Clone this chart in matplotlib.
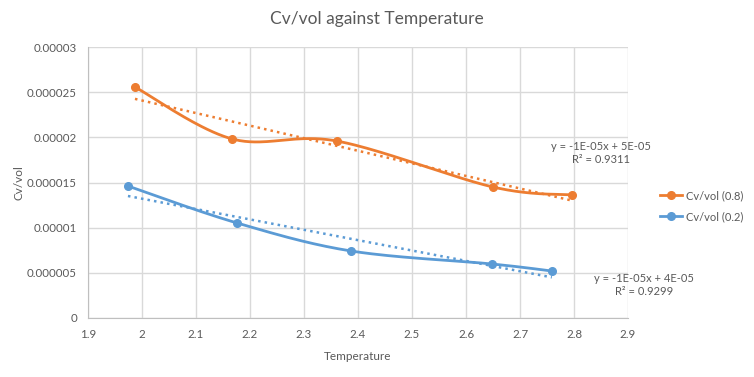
import numpy as np
import matplotlib
matplotlib.use("Agg")
import matplotlib.pyplot as plt

title = "Cv/vol against Temperature"
x_label = "Temperature"
y_label = "Cv/vol"

temp_08 = [1.987, 2.167, 2.361, 2.650, 2.796]
cv_08 = [2.557e-5, 1.982e-5, 1.959e-5, 1.450e-5, 1.362e-5]
temp_02 = [1.974, 2.176, 2.387, 2.648, 2.759]
cv_02 = [1.461e-5, 1.052e-5, 0.742e-5, 0.598e-5, 0.520e-5]

eq_08 = "y = -1E-05x + 5E-05\nR² = 0.9311"
eq_02 = "y = -1E-05x + 4E-05\nR² = 0.9299"

xticks = [1.9, 2.0, 2.1, 2.2, 2.3, 2.4, 2.5, 2.6, 2.7, 2.8, 2.9]
xtick_labels = ["1.9", "2", "2.1", "2.2", "2.3", "2.4", "2.5", "2.6", "2.7", "2.8", "2.9"]
yticks = [0, 0.000005, 0.00001, 0.000015, 0.00002, 0.000025, 0.00003]
ytick_labels = ["0", "0.000005", "0.00001", "0.000015", "0.00002", "0.000025", "0.00003"]

ORANGE = "#ED7D31"
BLUE = "#5B9BD5"
TXT = "#595959"

plt.rcParams['font.family'] = ['Lato', 'DejaVu Sans']


def smooth(xs, ys, n=40):
    xs = np.asarray(xs, float)
    ys = np.asarray(ys, float)
    px = np.concatenate([[xs[0]], xs, [xs[-1]]])
    py = np.concatenate([[ys[0]], ys, [ys[-1]]])
    ox, oy = [], []
    t = np.linspace(0, 1, n)
    for i in range(1, len(px) - 2):
        p0 = np.array([px[i], py[i]])
        p3 = np.array([px[i + 1], py[i + 1]])
        p1 = p0 + (np.array([px[i + 1], py[i + 1]]) - np.array([px[i - 1], py[i - 1]])) / 6
        p2 = p3 - (np.array([px[i + 2], py[i + 2]]) - np.array([px[i], py[i]])) / 6
        b = ((1 - t) ** 3)[:, None] * p0 + (3 * (1 - t) ** 2 * t)[:, None] * p1 + \
            (3 * (1 - t) * t ** 2)[:, None] * p2 + (t ** 3)[:, None] * p3
        ox.extend(b[:, 0])
        oy.extend(b[:, 1])
    return np.array(ox), np.array(oy)


fig = plt.figure(figsize=(7.54, 3.77), dpi=100)
ax = fig.add_axes([88 / 754, 1 - 318 / 377, 540 / 754, 271 / 377])

for xs, ys, c, lab in [(temp_08, cv_08, ORANGE, "Cv/vol (0.8)"), (temp_02, cv_02, BLUE, "Cv/vol (0.2)")]:
    sx, sy = smooth(xs, ys)
    ax.plot(sx, sy, color=c, lw=2, zorder=3, solid_capstyle='round')
    ax.plot(xs, ys, 'o', color=c, ms=5.5, zorder=4)
    ax.plot([], [], '-o', color=c, lw=2, ms=5.5, label=lab)
    k, b0 = np.polyfit(xs, ys, 1)
    tx = np.array([xs[0], xs[-1]])
    ax.plot(tx, k * tx + b0, ':', color=c, lw=1.8, zorder=2)

ax.set_xlim(1.9, 2.9)
ax.set_ylim(0, 0.00003)
ax.set_xticks(xticks)
ax.set_xticklabels(xtick_labels)
ax.set_yticks(yticks)
ax.set_yticklabels(ytick_labels)
ax.grid(True, color="#D9D9D9", lw=1)
ax.set_axisbelow(True)
for s in ["top", "right"]:
    ax.spines[s].set_visible(False)
for s in ["left", "bottom"]:
    ax.spines[s].set_color("#BFBFBF")
ax.tick_params(length=0, labelsize=8.3, colors=TXT, pad=8)

ax.set_xlabel(x_label, fontsize=8.5, color=TXT, labelpad=8)
ax.set_ylabel(y_label, fontsize=8.5, color=TXT, labelpad=2)
fig.text(377 / 754, 1 - 19 / 377, title, ha='center', va='center', fontsize=12.5, color=TXT)

fig.text(601 / 754, 1 - 153 / 377, eq_08, ha='center', va='center', fontsize=8, color=TXT, linespacing=1.3)
fig.text(644 / 754, 1 - 285 / 377, eq_02, ha='center', va='center', fontsize=8, color=TXT, linespacing=1.3)

leg = fig.legend(loc='center left', bbox_to_anchor=(650 / 754, 1 - 206 / 377), frameon=False,
                 fontsize=8, handlelength=2.0, handletextpad=0.3, labelspacing=0.9)
for t in leg.get_texts():
    t.set_color(TXT)

fig.savefig("out.png", dpi=100)
